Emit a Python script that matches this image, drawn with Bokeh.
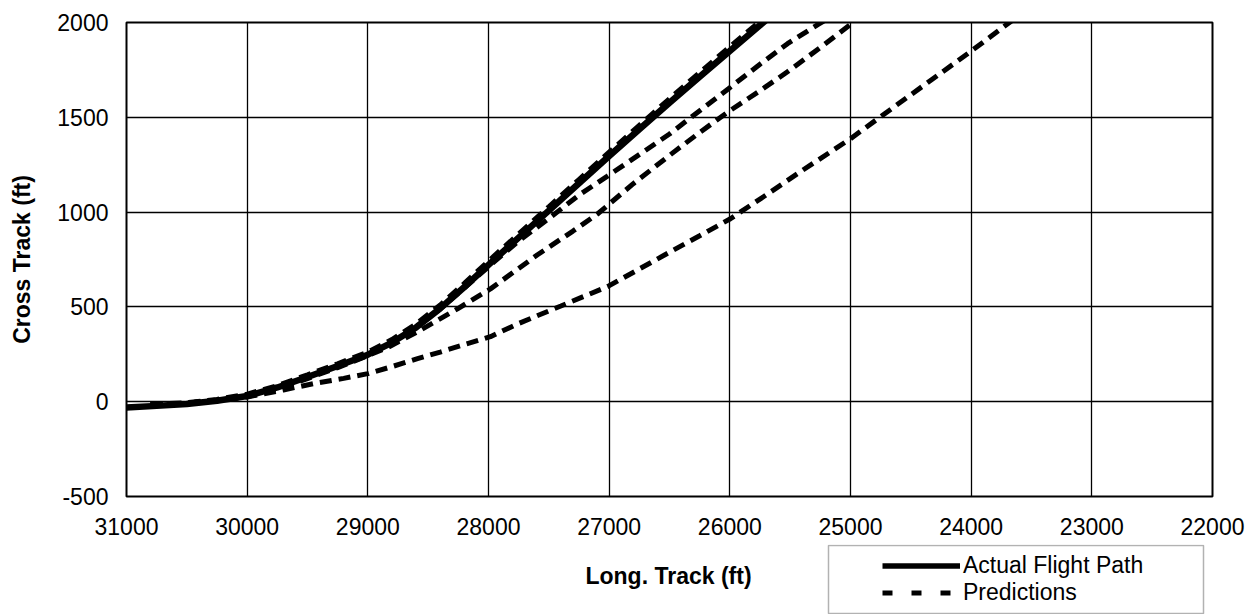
from bokeh.plotting import figure
from bokeh.models import Range1d, FixedTicker, Legend, LegendItem, BoxAnnotation, Label
from bokeh.layouts import column
from bokeh.embed import file_html
from bokeh.resources import INLINE

# ---- data ----
x_ticks = [31000, 30000, 29000, 28000, 27000, 26000, 25000, 24000, 23000, 22000]
y_ticks = [-500, 0, 500, 1000, 1500, 2000]
y_tick_labels = {-500: "-500", 0: "0", 500: "500", 1000: "1000", 1500: "1500", 2000: "2000"}

actual_x = [31000, 30750, 30500, 30250, 30000, 29750, 29500, 29250, 29000, 28800, 28600, 28400,
            28200, 28000, 27750, 27500, 27250, 27000, 26750, 26500, 26250, 26000, 25750, 25650]
actual_y = [-30, -22, -12, 5, 30, 75, 130, 188, 248, 312, 392, 492,
            605, 722, 865, 1008, 1152, 1296, 1437, 1577, 1714, 1850, 1985, 2040]

predA_x = [30800, 30500, 30250, 30000, 29750, 29500, 29250, 29000, 28800, 28600, 28400, 28200,
           28000, 27750, 27500, 27250, 27000, 26750, 26500, 26250, 26000, 25800, 25700]
predA_y = [-15, -5, 12, 40, 85, 142, 200, 262, 328, 410, 510, 624,
           742, 885, 1028, 1172, 1316, 1458, 1598, 1736, 1872, 1980, 2035]

predB_x = [30800, 30500, 30250, 30000, 29750, 29500, 29250, 29000, 28800, 28600, 28400, 28200,
           28000, 27760, 27460, 27250, 27014, 26716, 26500, 26351, 26011, 25750, 25522, 25274, 25160]
predB_y = [-15, -8, 8, 33, 72, 128, 186, 248, 312, 392, 490, 600,
           712, 842, 986, 1090, 1190, 1318, 1412, 1485, 1651, 1780, 1888, 1988, 2030]

predC_x = [30800, 30500, 30250, 30000, 29750, 29500, 29250, 29000, 28837, 28588, 28257, 27984,
           27594, 27300, 27097, 26800, 26492, 26250, 26011, 25750, 25522, 25250, 25025, 24917]
predC_y = [-15, -8, 8, 30, 68, 122, 180, 243, 285, 369, 490, 595,
           775, 900, 990, 1150, 1303, 1420, 1530, 1640, 1740, 1868, 1978, 2030]

predD_x = [30800, 30500, 30250, 30000, 29700, 29450, 29200, 29000, 28800, 28588, 28400, 28207,
           27984, 27760, 27400, 27014, 26750, 26492, 26250, 25995, 25700, 25415, 25000, 24751,
           24400, 24006, 23674, 23600]
predD_y = [-15, -8, 5, 25, 62, 95, 123, 148, 185, 227, 262, 300,
           343, 410, 505, 607, 700, 791, 875, 965, 1090, 1213, 1387, 1503,
           1665, 1846, 2004, 2040]

legend_labels = ["Actual Flight Path", "Predictions"]
x_title = "Long. Track (ft)"
y_title = "Cross Track (ft)"

FONT = "Liberation Sans"

# ---- main chart ----
p = figure(width=1258, height=544, output_backend="svg", toolbar_location=None,
           x_range=Range1d(31000, 22000), y_range=Range1d(-500, 2000),
           min_border_left=126, min_border_right=46, min_border_top=22, min_border_bottom=48)
p.background_fill_color = "white"
p.border_fill_color = "white"
p.outline_line_color = "black"
p.outline_line_width = 2

p.xaxis.ticker = FixedTicker(ticks=x_ticks)
p.yaxis.ticker = FixedTicker(ticks=y_ticks)
p.yaxis.major_label_overrides = y_tick_labels
for ax in (p.xaxis, p.yaxis):
    ax.axis_line_color = None
    ax.major_tick_out = 0
    ax.major_tick_in = 0
    ax.minor_tick_out = 0
    ax.minor_tick_in = 0
    ax.major_label_text_font = FONT
    ax.major_label_text_font_size = "23px"
    ax.major_label_text_color = "black"
    ax.axis_label_text_font = FONT
    ax.axis_label_text_font_size = "23px"
    ax.axis_label_text_font_style = "bold"
    ax.axis_label_text_color = "black"

p.yaxis.axis_label = y_title
p.xaxis.major_label_standoff = 21
p.yaxis.major_label_standoff = 18
p.yaxis.axis_label_standoff = 19

p.xgrid.grid_line_color = "black"
p.ygrid.grid_line_color = "black"
p.xgrid.grid_line_width = 1.3
p.ygrid.grid_line_width = 1.3

dash = "12 7"
pred_series = [(predA_x, predA_y), (predB_x, predB_y), (predC_x, predC_y), (predD_x, predD_y)]
for xs, ys in pred_series:
    p.line(xs, ys, line_color="black", line_width=5, line_dash=dash)
p.line(actual_x, actual_y, line_color="black", line_width=6.5)

# ---- bottom strip: x-axis title and legend (frame aligned with the chart's frame) ----
q = figure(width=1258, height=70, output_backend="svg", toolbar_location=None,
           x_range=p.x_range, y_range=Range1d(-1000, -900),
           x_axis_location=None, y_axis_location=None,
           min_border_left=126, min_border_right=46, min_border_top=0, min_border_bottom=0)
q.grid.visible = False
q.outline_line_color = None
q.background_fill_color = "white"
q.border_fill_color = "white"

# frame of q spans x 126..1212 of the page, y 544..614
q.add_layout(Label(x=542, y=39, x_units="screen", y_units="screen", text=x_title,
                   text_font=FONT, text_font_size="23px", text_font_style="bold",
                   text_color="black", text_align="center", text_baseline="middle"))

q.add_layout(BoxAnnotation(left=702, right=1077, top=69, bottom=1,
                           left_units="screen", right_units="screen",
                           top_units="screen", bottom_units="screen",
                           fill_color="white", fill_alpha=1.0,
                           line_color="black", line_width=1.5))

# legend entries reference the same series (out of this strip's visible y range)
s_act = q.line(actual_x, actual_y, line_color="black", line_width=5.5)
s_pred = q.line(predA_x, predA_y, line_color="black", line_width=5, line_dash="10 19")
legend = Legend(items=[LegendItem(label=legend_labels[0], renderers=[s_act]),
                       LegendItem(label=legend_labels[1], renderers=[s_pred])],
                location=(756, 8), padding=0, spacing=0, margin=0,
                glyph_width=78, glyph_height=27, label_height=27, label_standoff=3,
                label_text_font=FONT, label_text_font_size="23px", label_text_color="black",
                label_text_baseline="middle",
                background_fill_alpha=0, border_line_alpha=0)
q.add_layout(legend, "center")

layout = column(p, q, spacing=0)
open("out.html", "w").write(file_html(layout, INLINE))
